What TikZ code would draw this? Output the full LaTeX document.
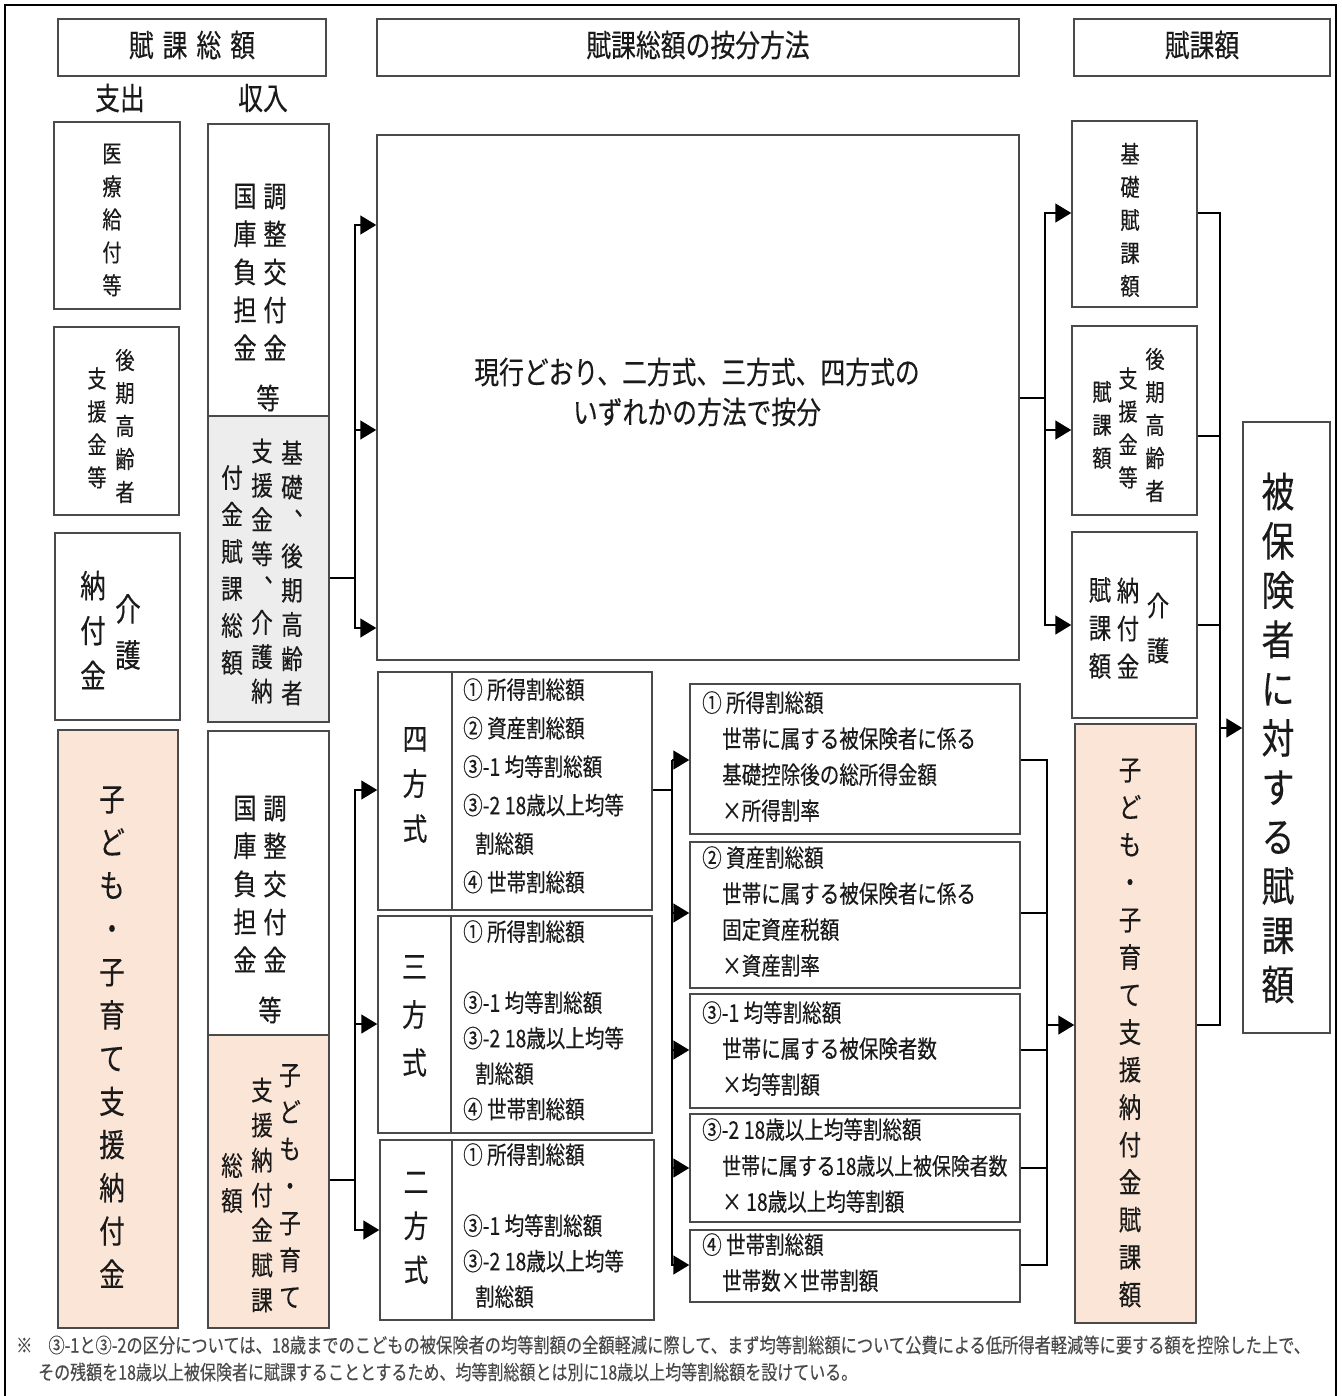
\documentclass[tikz,border=0pt]{standalone}
\usepackage{fontspec}
\setmainfont{Noto Sans CJK JP}[FakeStretch=0.8,FakeBold=0.3]
\usetikzlibrary{arrows.meta}
\definecolor{peach}{HTML}{FBE5D6}
\definecolor{graybox}{HTML}{EDEDED}
\definecolor{ink}{HTML}{1A1A1A}
\definecolor{edge}{HTML}{4A4A4A}
\definecolor{note}{HTML}{4A4A4A}
\ExplSyntaxOn
\NewDocumentCommand\tatecol{mm}{
  \vbox{
    \baselineskip=#1pt \lineskiplimit=-\maxdimen \lineskip=0pt
    \tl_map_inline:nn {#2} { \hbox_to_wd:nn {1.1em} {\hss ##1\hss} }
  }
}
\ExplSyntaxOff
\newcommand\vtx[3]{\fontsize{#1}{#1}\selectfont\tatecol{#2}{#3}}
\newcommand\hfont{\fontsize{31}{40}\selectfont}
\begin{document}
\begin{tikzpicture}[x=1pt,y=-1pt,
  box/.style={draw=edge, line width=1.5pt, inner sep=0pt},
  conn/.style={draw=black, line width=1.6pt},
  arr/.style={conn, -{Triangle[length=16pt,width=19pt]}},
  lbl/.style={inner sep=0pt, text=ink},
]
\useasboundingbox (0,0) rectangle (1341,1396);
\fill[white] (0,0) rectangle (1341,1396);
\draw[line width=2.5pt] (5,1402) -- (5,5) -- (1336,5) -- (1336,1402);

% headers
\node[box, minimum width=268pt, minimum height=57pt] (h1) at (192,47.5) {};
\node[box, minimum width=642pt, minimum height=57pt] (h2) at (698,47.5) {};
\node[box, minimum width=256pt, minimum height=57pt] (h3) at (1202,47.5) {};
\node[lbl, font=\hfont] (h1t) at (192,45) {賦\hspace{9pt}課\hspace{9pt}総\hspace{9pt}額};
\node[lbl, font=\hfont] (h2t) at (698,45) {賦課総額の按分方法};
\node[lbl, font=\hfont] (h3t) at (1202,45) {賦課額};
\node[lbl, font=\hfont] (exp) at (120,98) {支出};
\node[lbl, font=\hfont] (inc) at (263,98) {収入};

% expenditure column
\node[box, minimum width=126pt, minimum height=187pt] (L1) at (117,215.5) {};
\node[box, minimum width=125pt, minimum height=188pt] (L2) at (116.5,421) {};
\node[box, minimum width=125pt, minimum height=187pt] (L3) at (117.5,626.5) {};
\node[box, fill=peach, minimum width=120pt, minimum height=598pt] (L4) at (118,1029) {};
\node[lbl] (L1t) at (112,220) {\vtx{24}{33}{医療給付等}};
\node[lbl] (L2a) at (125,426) {\vtx{24}{33}{後期高齢者}};
\node[lbl] (L2b) at (97,428) {\vtx{24}{33}{支援金等}};
\node[lbl] (L3a) at (128,632) {\vtx{32}{46}{介護}};
\node[lbl] (L3b) at (93,630) {\vtx{32}{45}{納付金}};
\node[lbl] (L4t) at (112,1037) {\vtx{32}{43.2}{子ども・子育て支援納付金}};

% income column
\node[box, minimum width=121pt, minimum height=292pt] (M1) at (268.5,270) {};
\node[box, fill=graybox, minimum width=121pt, minimum height=306pt] (M2) at (268.5,569) {};
\node[box, minimum width=121pt, minimum height=304pt] (M3) at (268.5,883) {};
\node[box, fill=peach, minimum width=121pt, minimum height=293pt] (M4) at (268.5,1181.5) {};
\node[lbl] (M1a) at (275,272) {\vtx{29}{38}{調整交付金}};
\node[lbl] (M1b) at (245,272) {\vtx{29}{38}{国庫負担金}};
\node[lbl, font=\fontsize{29}{29}\selectfont] (M1c) at (268,398) {等};
\node[lbl] (M2a) at (292,573) {\vtx{27}{34.3}{基礎︑後期高齢者}};
\node[lbl] (M2b) at (262,571) {\vtx{27}{34.3}{支援金等︑介護納}};
\node[lbl] (M2c) at (232,570) {\vtx{27}{37}{付金賦課総額}};
\node[lbl] (M3a) at (275,884) {\vtx{29}{38}{調整交付金}};
\node[lbl] (M3b) at (245,884) {\vtx{29}{38}{国庫負担金}};
\node[lbl, font=\fontsize{29}{29}\selectfont] (M3c) at (270,1010) {等};
\node[lbl] (M4a) at (290,1186) {\vtx{27}{37}{子ども・子育て}};
\node[lbl] (M4b) at (262,1195) {\vtx{27}{35}{支援納付金賦課}};
\node[lbl] (M4c) at (232,1183) {\vtx{27}{35}{総額}};

% centre box
\node[box, minimum width=642pt, minimum height=525pt] (C) at (698,397.5) {};
\node[lbl, font=\hfont, align=center] (Ct) at (697,392) {現行どおり、二方式、三方式、四方式の\\いずれかの方法で按分};

% methods
\node[box, minimum width=274pt, minimum height=238pt] (Four) at (515,791) {};
\node[box, minimum width=274pt, minimum height=217pt] (Three) at (515,1024.5) {};
\node[box, minimum width=274pt, minimum height=180pt] (Two) at (517,1230) {};
\draw[box] (Four.north -| 452,0) -- (Four.south -| 452,0);
\draw[box] (Three.north -| 451,0) -- (Three.south -| 451,0);
\draw[box] (Two.north -| 452,0) -- (Two.south -| 452,0);
\node[lbl] (Fourv) at (415,785) {\vtx{31}{45}{四方式}};
\node[lbl] (Threev) at (414.5,1016) {\vtx{31}{48}{三方式}};
\node[lbl] (Twov) at (416,1228) {\vtx{31}{44}{二方式}};
\node[lbl, anchor=north west, align=left, font=\fontsize{24.4}{38.5}\selectfont] (Fourl) at (463,678)
  {① 所得割総額\\② 資産割総額\\③-1 均等割総額\\③-2 18歳以上均等\\\hspace*{12pt}割総額\\④ 世帯割総額};
\node[lbl, anchor=north west, align=left, font=\fontsize{24.4}{35.5}\selectfont] (Threel) at (463,920)
  {① 所得割総額\\~\\③-1 均等割総額\\③-2 18歳以上均等\\\hspace*{12pt}割総額\\④ 世帯割総額};
\node[lbl, anchor=north west, align=left, font=\fontsize{24.4}{35.5}\selectfont] (Twol) at (463,1143)
  {① 所得割総額\\~\\③-1 均等割総額\\③-2 18歳以上均等\\\hspace*{12pt}割総額};

% detail boxes
\node[box, minimum width=330pt, minimum height=150pt] (DA) at (855,759) {};
\node[box, minimum width=330pt, minimum height=146pt] (DB) at (855,915) {};
\node[box, minimum width=330pt, minimum height=114pt] (DC) at (855,1051) {};
\node[box, minimum width=330pt, minimum height=108pt] (DD) at (855,1168) {};
\node[box, minimum width=330pt, minimum height=72pt] (DE) at (855,1266) {};
\tikzset{dl/.style={lbl, anchor=north west, align=left, font=\fontsize{24.4}{36}\selectfont}}
\node[dl] (DAt) at (702,691) {① 所得割総額\\\hspace*{20pt}世帯に属する被保険者に係る\\\hspace*{20pt}基礎控除後の総所得金額\\\hspace*{20pt}×所得割率};
\node[dl] (DBt) at (702,846) {② 資産割総額\\\hspace*{20pt}世帯に属する被保険者に係る\\\hspace*{20pt}固定資産税額\\\hspace*{20pt}×資産割率};
\node[dl] (DCt) at (702,1001) {③-1 均等割総額\\\hspace*{20pt}世帯に属する被保険者数\\\hspace*{20pt}×均等割額};
\node[dl] (DDt) at (702,1118) {③-2 18歳以上均等割総額\\\hspace*{20pt}{\fontsize{23.6}{36}\selectfont 世帯に属する18歳以上被保険者数}\\\hspace*{20pt}× 18歳以上均等割額};
\node[dl] (DEt) at (702,1233) {④ 世帯割総額\\\hspace*{20pt}世帯数×世帯割額};

% right column
\node[box, minimum width=125pt, minimum height=186pt] (R1) at (1134.5,214) {};
\node[box, minimum width=125pt, minimum height=189pt] (R2) at (1134.5,420.5) {};
\node[box, minimum width=125pt, minimum height=186pt] (R3) at (1134.5,625) {};
\node[box, fill=peach, minimum width=121pt, minimum height=599pt] (R4) at (1135.5,1023.5) {};
\node[box, minimum width=87pt, minimum height=611pt] (F) at (1286.5,727.5) {};
\node[lbl] (R1t) at (1130,220) {\vtx{24}{33}{基礎賦課額}};
\node[lbl] (R2a) at (1155,425) {\vtx{24}{33}{後期高齢者}};
\node[lbl] (R2b) at (1128,428) {\vtx{24}{33}{支援金等}};
\node[lbl] (R2c) at (1102,425) {\vtx{24}{33}{賦課額}};
\node[lbl] (R3a) at (1158,628) {\vtx{28}{45}{介護}};
\node[lbl] (R3b) at (1128,628) {\vtx{28}{38}{納付金}};
\node[lbl] (R3c) at (1100,628) {\vtx{28}{38}{賦課額}};
\node[lbl] (R4t) at (1130,1033) {\vtx{28}{37.5}{子ども・子育て支援納付金賦課額}};
\node[lbl] (Ft) at (1278,738) {\vtx{41}{49.3}{被保険者に対する賦課額}};

% connectors: income -> centre
\coordinate (jA) at (355,578);
\draw[conn] (M2.east |- jA) -- (jA);
\draw[arr] (jA) |- (C.west |- 0,225);
\draw[arr] (jA) |- (C.west |- 0,430);
\draw[arr] (jA) |- (C.west |- 0,628);
% centre -> right column
\coordinate (jB) at (1045,398);
\draw[conn] (C.east |- jB) -- (jB);
\draw[arr] (jB) |- (R1.west |- 0,213);
\draw[arr] (jB) |- (R2.west |- 0,430);
\draw[arr] (jB) |- (R3.west |- 0,625);
% right column -> final
\coordinate (jC) at (1220,728);
\draw[conn] (R1.east |- 0,213) -| (jC);
\draw[conn] (R4.east |- 0,1025) -| (jC);
\draw[conn] (R2.east |- 0,436) -- (1220,436);
\draw[conn] (R3.east |- 0,625) -- (1220,625);
\draw[arr] (jC) -- (F.west |- jC);
% children support -> methods
\coordinate (jD) at (355,1180);
\draw[conn] (M4.east |- jD) -- (jD);
\draw[arr] (jD) |- (Four.west |- 0,790);
\draw[arr] (jD) |- (Three.west |- 0,1024);
\draw[arr] (jD) |- (Two.west |- 0,1230);
% methods -> details
\coordinate (jE) at (672,790);
\draw[conn] (Four.east |- jE) -- (jE);
\draw[conn] (672,760) -- (672,1265);
\draw[arr] (672,760) -- (DA.west |- 0,760);
\draw[arr] (jE) |- (DB.west |- 0,913);
\draw[arr] (jE) |- (DC.west |- 0,1050);
\draw[arr] (jE) |- (DD.west |- 0,1168);
\draw[arr] (jE) |- (DE.west |- 0,1265);
% details -> child support levy
\coordinate (jF) at (1047,1025);
\draw[conn] (DA.east |- 0,760) -| (jF);
\draw[conn] (DE.east |- 0,1265) -| (jF);
\draw[conn] (DB.east |- 0,913) -- (1047,913);
\draw[conn] (DC.east |- 0,1050) -- (1047,1050);
\draw[conn] (DD.east |- 0,1168) -- (1047,1168);
\draw[arr] (jF) -- (R4.west |- jF);

% footnote
\node[lbl, anchor=west, text=note, font=\fontsize{20.3}{26}\selectfont] (fn1) at (16,1345) {※\hspace{16pt}③-1と③-2の区分については、18歳までのこどもの被保険者の均等割額の全額軽減に際して、まず均等割総額について公費による低所得者軽減等に要する額を控除した上で、};
\node[lbl, anchor=west, text=note, font=\fontsize{20}{26}\selectfont] (fn2) at (38,1372) {その残額を18歳以上被保険者に賦課することとするため、均等割総額とは別に18歳以上均等割総額を設けている。};
\end{tikzpicture}
\end{document}
